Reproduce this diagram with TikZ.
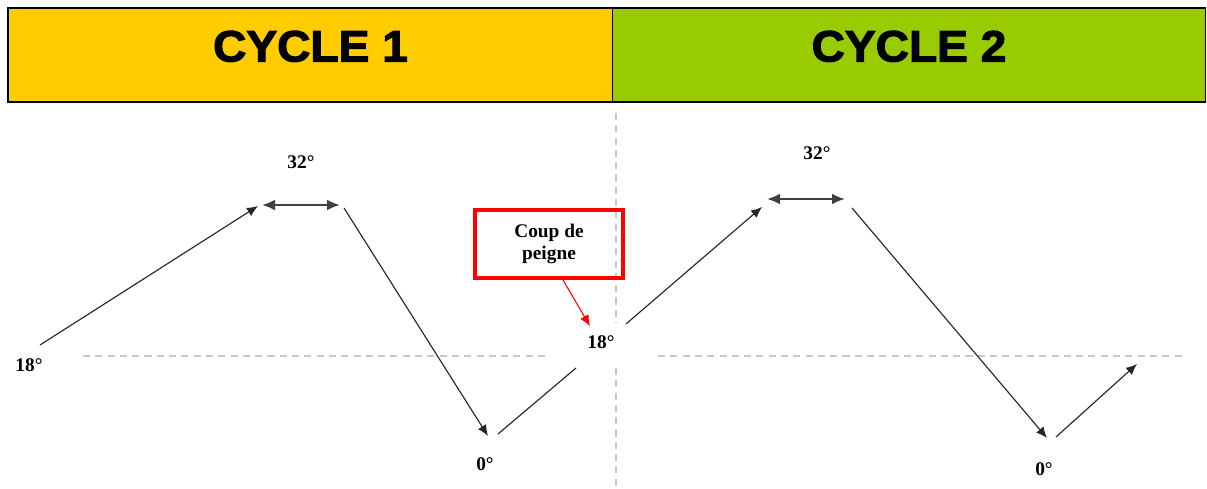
\documentclass[tikz,border=0pt]{standalone}
\usepackage{fontspec}
\setmainfont{Liberation Serif}
\newfontfamily\headfont[FakeBold=2.5, FakeStretch=1.05]{Liberation Sans}
\usepackage{tikz}
\usetikzlibrary{arrows.meta, positioning, calc}
\definecolor{cycgold}{HTML}{FFCC00}
\definecolor{cycgreen}{HTML}{99CC00}
\definecolor{guidegray}{HTML}{C8C8C8}
\tikzset{
    head_gold/.style={rectangle, draw=black, line width=0.8pt, fill=cycgold, minimum width=12.1cm, minimum height=1.88cm, inner sep=0pt, text height=0.63cm, text depth=0.37cm, font=\headfont\bfseries\fontsize{25}{30}\selectfont},
    head_green/.style={head_gold, fill=cycgreen, minimum width=11.86cm},
    deg_label/.style={inner sep=0pt, font=\bfseries\fontsize{11}{13}\selectfont},
    box_red/.style={rectangle, draw=red, line width=2.3pt, minimum width=2.96cm, minimum height=1.36cm, align=center, font=\bfseries\fontsize{11}{13}\selectfont},
    arrow/.style={-{Latex[length=0.22cm, width=0.19cm]}, line width=0.65pt, black!85},
    twoway/.style={{Latex[length=0.26cm, width=0.22cm]}-{Latex[length=0.26cm, width=0.22cm]}, line width=1.3pt, black!75},
    arrow_red/.style={-{Latex[length=0.22cm, width=0.19cm]}, line width=0.6pt, red},
    guide/.style={guidegray, line width=0.7pt, dash pattern=on 4pt off 3pt}
}
\begin{document}
\begin{tikzpicture}[x=0.02cm, y=-0.02cm]
            \useasboundingbox (0,0) rectangle (1207,489);

            % Headers
            \node[head_gold] (cyc1) at (310.5,55) {CYCLE 1};
            \node[head_green] (cyc2) at (909,55) {CYCLE 2};

            % Guide lines
            \draw[guide] (616,113) -- (616,323);
            \draw[guide] (616,368) -- (616,489);
            \draw[guide] (83,356) -- (547,356);
            \draw[guide] (658,356) -- (1186,356);

            % Points of cycle 1
            \coordinate (a0) at (40,345);
            \coordinate (a1) at (258,206);
            \coordinate (a2) at (262,205);
            \coordinate (a3) at (340,205);
            \coordinate (a4) at (344,208);
            \coordinate (a5) at (488,436);
            \coordinate (a6) at (498,434);
            \coordinate (a7) at (576,368);

            % Points of cycle 2
            \coordinate (b0) at (626,324);
            \coordinate (b1) at (762,207);
            \coordinate (b2) at (767,199);
            \coordinate (b3) at (845,199);
            \coordinate (b4) at (852,208);
            \coordinate (b5) at (1047,438);
            \coordinate (b6) at (1056,437);
            \coordinate (b7) at (1137,364);

            % Cycle 1
            \draw[arrow] (a0) -- (a1);
            \draw[twoway] (a2) -- (a3);
            \draw[arrow] (a4) -- (a5);
            \draw[line width=0.65pt, black!85] (a6) -- (a7);

            % Cycle 2
            \draw[arrow] (b0) -- (b1);
            \draw[twoway] (b2) -- (b3);
            \draw[arrow] (b4) -- (b5);
            \draw[arrow] (b6) -- (b7);

            % Angles
            \node[deg_label] (ang1) at (29,365) {18°};
            \node[deg_label] (ang2) at (301,162) {32°};
            \node[deg_label] (ang3) at (485,464) {0°};
            \node[deg_label] (ang4) at (601,342) {18°};
            \node[deg_label] (ang5) at (817,153) {32°};
            \node[deg_label] (ang6) at (1044,469) {0°};

            % Coup de peigne
            \node[box_red] (coup) at (549,244) {Coup de\\peigne};
            \draw[arrow_red] ([xshift=0.28cm]coup.south) -- ([xshift=-0.22cm, yshift=0.18cm]ang4.north);
\end{tikzpicture}
\end{document}
